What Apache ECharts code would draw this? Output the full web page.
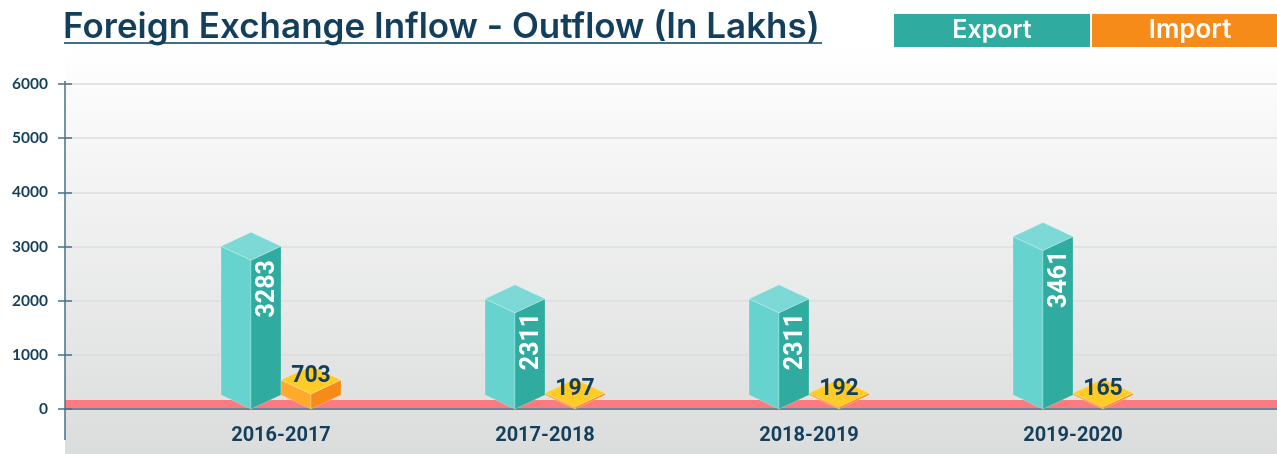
<!DOCTYPE html>
<html><head><meta charset="utf-8">
<style>html,body{margin:0;padding:0;background:#fff}#c{width:1277px;height:454px}</style>
<script src="https://cdn.jsdelivr.net/npm/echarts@6/dist/echarts.min.js"></script>
</head><body><div id="c"></div>
<script>
var categories = ['2016-2017','2017-2018','2018-2019','2019-2020'];
var exportValues = [3283,2311,2311,3461];
var importValues = [703,197,192,165];
var yTicks = [0,1000,2000,3000,4000,5000,6000];
var floorBand = [0,166];
var navy = '#143f5c';

function prism(offset, shift, colors, labelFn){
  return function(params, api){
    var cat = api.value(0), val = api.value(1);
    var p = api.coord([cat,val]), o = api.coord([cat,0]);
    var hw = 30, d = 14;
    var x = p[0] + offset;
    var by = o[1];
    var ty = Math.min(by - 2, p[1] + 2*d + shift);
    var edge = 'rgba(255,255,255,0.22)';
    var kids = [
      {type:'polygon',shape:{points:[[x-hw,ty-d],[x,ty],[x,by],[x-hw,by-d]]},style:{fill:colors.left,stroke:edge,lineWidth:1}},
      {type:'polygon',shape:{points:[[x,ty],[x+hw,ty-d],[x+hw,by-d],[x,by]]},style:{fill:colors.right,stroke:edge,lineWidth:1}},
      {type:'polygon',shape:{points:[[x-hw,ty-d],[x,ty-2*d],[x+hw,ty-d],[x,ty]]},style:{fill:colors.top,stroke:edge,lineWidth:1}}
    ];
    kids.push(labelFn(x,ty,val));
    return {type:'group',children:kids};
  };
}
var chart = echarts.init(document.getElementById('c'),null,{renderer:'canvas'});
chart.setOption({
  animation:false,
  backgroundColor:'#fff',
  title:{text:'Foreign Exchange Inflow - Outflow (In Lakhs)',left:63,top:10,padding:0,
    textStyle:{fontFamily:'Inter',fontWeight:600,fontSize:35,color:navy}},
  graphic:[
    {type:'rect',z:-10,shape:{x:65,y:45,width:1212,height:409},
     style:{fill:new echarts.graphic.LinearGradient(0,0,0,1,[{offset:0,color:'#ffffff'},{offset:1,color:'#dbdcdc'}])}},
    {type:'rect',z:5,shape:{x:64,y:42,width:758,height:2},style:{fill:'#3f6f89'}},
    {type:'line',z:5,shape:{x1:65,y1:81,x2:65,y2:440},style:{stroke:'#4b7085',lineWidth:1.5}},
    {type:'rect',z:5,shape:{x:894,y:14,width:196,height:33},style:{fill:'#2fab9f'}},
    {type:'rect',z:5,shape:{x:1092,y:14,width:185,height:33},style:{fill:'#f78b1a'}},
    {type:'text',z:6,x:992,y:30,style:{text:'Export',fill:'#fff',fontFamily:'Inter',fontWeight:600,fontSize:25,align:'center',verticalAlign:'middle'}},
    {type:'text',z:6,x:1190,y:30,style:{text:'Import',fill:'#fff',fontFamily:'Inter',fontWeight:600,fontSize:26,align:'center',verticalAlign:'middle'}}
  ],
  grid:[
    {left:65,right:0,top:84,height:325},
    {left:149,width:1056,top:84,height:325}
  ],
  xAxis:[
    {gridIndex:0,type:'value',min:0,max:1,show:true,axisLabel:{show:false},axisTick:{show:false},splitLine:{show:false},
     axisLine:{show:true,onZero:false,lineStyle:{color:'#4e6579',width:1.5}}},
    {gridIndex:1,type:'category',data:categories,axisLine:{show:false},axisTick:{show:false},
     axisLabel:{margin:17,fontFamily:'Roboto',fontWeight:700,fontSize:20,color:navy}}
  ],
  yAxis:[
    {gridIndex:0,type:'value',min:0,max:6000,interval:1000,
     axisLine:{show:false},axisTick:{show:true,length:7,lineStyle:{color:'#4b7085',width:1.5}},
     axisLabel:{margin:17,padding:[2,0,0,0],fontFamily:'Lato',fontWeight:700,fontSize:15.5,color:navy,
       formatter:function(v){return yTicks.indexOf(v)>=0?String(v):'';}},
     splitLine:{show:true,lineStyle:{color:'#dcdcdc',width:1.5}}},
    {gridIndex:0,type:'value',min:0,max:6000,interval:1000,position:'left',z:6,
     axisLine:{show:false},axisLabel:{show:false},splitLine:{show:false},
     axisTick:{show:true,inside:true,length:7,lineStyle:{color:'#4b7085',width:1.5}}},
    {gridIndex:1,type:'value',min:0,max:6000,interval:1000,show:false}
  ],
  series:[
    {type:'custom',name:'Floor',xAxisIndex:0,yAxisIndex:0,z:1,silent:true,data:[[0,floorBand[0],floorBand[1]]],
     renderItem:function(params,api){
       var a=api.coord([0,api.value(2)]), b=api.coord([1,api.value(1)]);
       return {type:'rect',shape:{x:a[0],y:a[1],width:b[0]-a[0],height:b[1]-a[1]-1},style:{fill:'#fd7b80'}};
     }},
    {type:'custom',name:'Export',xAxisIndex:1,yAxisIndex:2,z:3,
     data:exportValues.map(function(v,i){return [i,v];}),
     renderItem:prism(-30,1,{left:'#66d3ce',right:'#2fab9f',top:'#7dd9d5'},function(x,ty,val){
       return {type:'text',x:x+17,y:ty,rotation:Math.PI/2,
         style:{text:String(val),fill:'#fff',fontFamily:'Roboto',fontWeight:700,fontSize:25,align:'right',verticalAlign:'middle'}};
     })},
    {type:'custom',name:'Import',xAxisIndex:1,yAxisIndex:2,z:4,
     data:importValues.map(function(v,i){return [i,v];}),
     renderItem:prism(30,-5,{left:'#ffaa2a',right:'#f78b1a',top:'#ffcb26'},function(x,ty,val){
       return {type:'text',x:x,y:ty-18,
         style:{text:String(val),fill:navy,fontFamily:'Roboto',fontWeight:700,fontSize:23,align:'center',verticalAlign:'middle'}};
     })}
  ]
});
</script></body></html>
